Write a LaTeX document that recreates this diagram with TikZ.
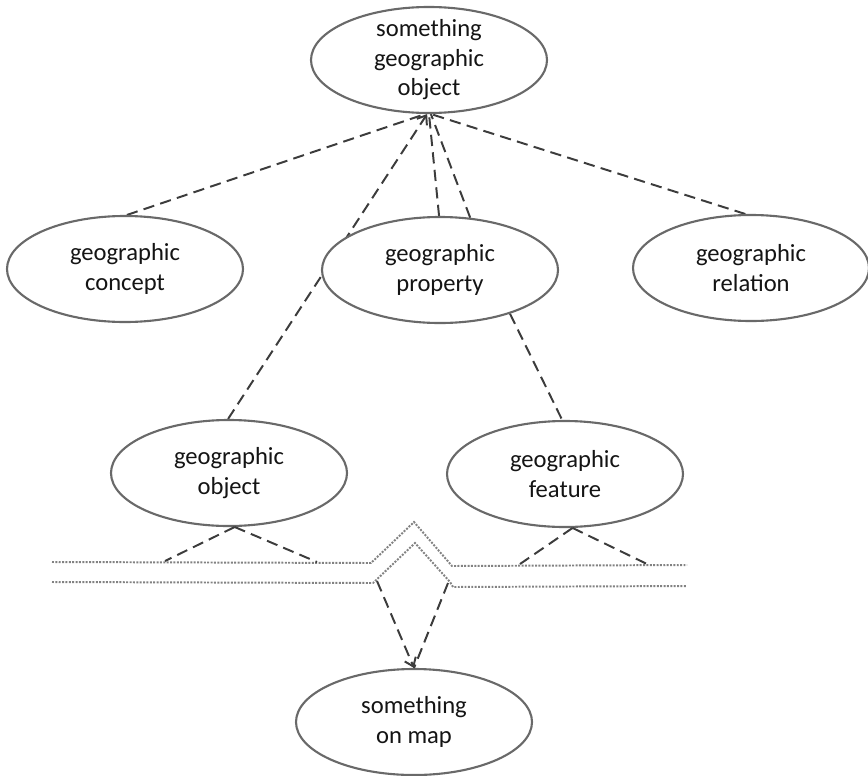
\documentclass[tikz,border=0pt]{standalone}
\usepackage{fontspec}
\setmainfont{Carlito}
\usetikzlibrary{arrows.meta,shapes.geometric,backgrounds}
\definecolor{rim}{RGB}{105,105,105}
\definecolor{ink}{RGB}{20,20,20}
\definecolor{link}{RGB}{60,60,60}
\definecolor{rail}{RGB}{130,130,130}
\tikzset{
  >={Straight Barb[length=2mm,width=3mm]},
  bubble/.style={ellipse,draw=rim,line width=1.5pt,fill=white,
    minimum width=59mm,minimum height=26.5mm,inner sep=0pt},
  caption/.style={text=ink,align=center,inner sep=0pt,
    font=\fontsize{17.5}{21}\selectfont},
  rel/.style={draw=link,line width=1.4pt,dash pattern=on 8pt off 4.5pt},
  track/.style={draw=rail,line width=1.4pt,dash pattern=on 1.4pt off 1pt},
}

\begin{document}
\begin{tikzpicture}[x=0.25mm,y=-0.25mm]
  \useasboundingbox (0,0) rectangle (868,775);
  \node[bubble,label={[caption]center:something\\geographic\\object}] (top) at (429,60) {};
  \node[bubble,label={[caption]center:geographic\\concept}] (concept) at (125,269) {};
  \node[bubble,label={[caption]center:geographic\\property}] (property) at (440,270) {};
  \node[bubble,label={[caption]center:geographic\\relation}] (relation) at (751,268) {};
  \node[bubble,label={[caption]center:geographic\\object}] (gobject) at (229,473) {};
  \node[bubble,label={[caption]center:geographic\\feature}] (feature) at (565,474) {};
  \node[bubble,label={[caption]center:something\\on map}] (map) at (414,722) {};
  % map border tracks
  \draw[track] (52,562) -- (371,563) -- (414,522) -- (452,566) -- (687,565);
  \draw[track] (52,582) -- (373,583) -- (415,543) -- (450,582) -- (453,587) -- (687,586);
  \coordinate (ol) at (165,561); \coordinate (or) at (317,562);
  \coordinate (fl) at (520,564); \coordinate (fr) at (647,564);
  \coordinate (kl) at (377,581); \coordinate (kr) at (448,583);
  \begin{scope}[on background layer]
    \draw[rel] (concept.88) -- (top.-94);
    \draw[rel] (relation.96) -- (top.-88);
    \draw[rel,->] (gobject.91) -- (top.-92);
    \draw[rel] (property.91) -- (top.-90);
    \draw[rel] (property.60) -- (top.-88);
    \draw[rel] (property.-32) -- (feature.93);
  \end{scope}
  \draw[rel] (gobject.-84) -- (ol);
  \draw[rel] (gobject.-84) -- (or);
  \draw[rel] (feature.-82) -- (fl);
  \draw[rel] (feature.-82) -- (fr);
  \draw[rel,->] (kl) -- (map.north);
  \draw[rel] (kr) -- (map.north);
\end{tikzpicture}
\end{document}
